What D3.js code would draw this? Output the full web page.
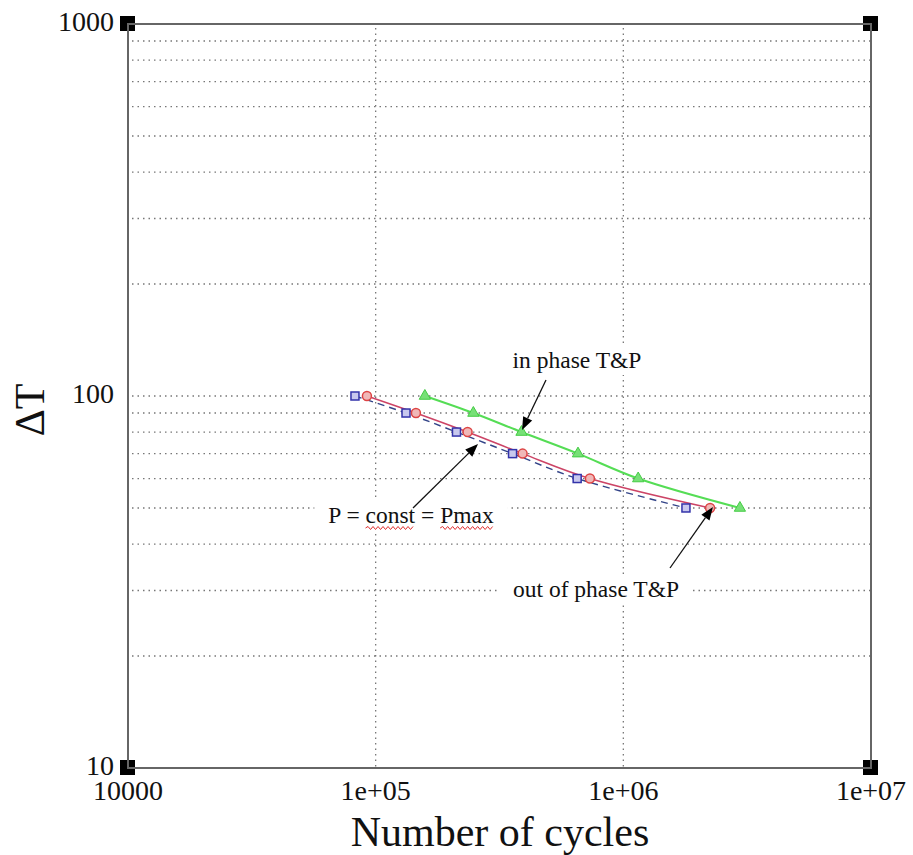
<!DOCTYPE html>
<html><head><meta charset="utf-8">
<script src="https://cdn.jsdelivr.net/npm/d3@7"></script>
<style>
body{margin:0;background:#fff}
text{font-family:"Liberation Serif","Times New Roman",serif;fill:#111}
</style></head>
<body><svg id="c" width="913" height="855"></svg>
<script>
// ---- data ----
const xTicks=[1e4,1e5,1e6,1e7];
const xTickLabels=["10000","1e+05","1e+06","1e+07"];
const yTicks=[10,100,1000];
const yTickLabels=["10","100","1000"];
const yGrid=[20,30,40,50,60,70,80,90,100,200,300,400,500,600,700,800,900];
const xGrid=[1e5,1e6];
const constCycles=[82500,132600,212000,357000,651000,1790000];
const constDT=[100,90,80,70,60,50];
const outCycles=[92200,145400,235000,392000,733000,2240000];
const outDT=[100,90,80,70,60,50];
const inCycles=[158000,248000,388000,656000,1148000,2956000];
const inDT=[100,90,80,70,60,50];
const annotations=[
  {text:"in phase T&P", tx:577, ty:368, tail:[546,380], tip:[390000,81], squiggle:[]},
  {text:"P = const = Pmax", tx:411, ty:523, tail:[413,508], tip:[259000,74.3], squiggle:[[4,5],[12,4]]},
  {text:"out of phase T&P", tx:596, ty:597, tail:[670,568], tip:[2300000,50.3], squiggle:[]}
];

const svg=d3.select("#c");
const L=128,R=871,T=24,B=768;
const x=d3.scaleLog().domain([1e4,1e7]).range([L,R]);
const y=d3.scaleLog().domain([10,1000]).range([B,T]);

// grid
svg.append("g").selectAll("line").data(yGrid).join("line")
  .attr("x1",L+4).attr("x2",R).attr("y1",d=>y(d)).attr("y2",d=>y(d))
  .attr("stroke","#777").attr("stroke-width",1.3).attr("stroke-dasharray","1.5,4");
svg.append("g").selectAll("line").data(xGrid).join("line")
  .attr("y1",T+4).attr("y2",B).attr("x1",d=>x(d)).attr("x2",d=>x(d))
  .attr("stroke","#777").attr("stroke-width",1.3).attr("stroke-dasharray","1.5,4");

// corner squares
const corners=[[L,T],[R,T],[L,B],[R,B]];
svg.append("g").selectAll("rect").data(corners).join("rect")
  .attr("x",d=>d[0]-8).attr("y",d=>d[1]-8).attr("width",15).attr("height",15).attr("fill","#000");

// frame
svg.append("rect").attr("x",L).attr("y",T).attr("width",R-L).attr("height",B-T)
  .attr("fill","none").attr("stroke","#666").attr("stroke-width",2);

// tick labels
svg.append("g").selectAll("text").data(yTicks).join("text")
  .attr("x",114).attr("y",d=>y(d)+7).attr("text-anchor","end").attr("font-size",28)
  .text((d,i)=>yTickLabels[i]);
svg.append("g").selectAll("text").data(xTicks).join("text")
  .attr("x",d=>x(d)).attr("y",800).attr("text-anchor","middle").attr("font-size",28)
  .text((d,i)=>xTickLabels[i]);

// axis titles
svg.append("text").attr("x",500).attr("y",846).attr("text-anchor","middle").attr("font-size",42).text("Number of cycles");
svg.append("text").attr("transform","translate(44,410) rotate(-90)").attr("text-anchor","middle").attr("font-size",42).text("ΔT");

// series lines
const line=d3.line().curve(d3.curveCatmullRom.alpha(0.5)).x(d=>x(d[0])).y(d=>y(d[1]));
const zip=(a,b)=>a.map((v,i)=>[v,b[i]]);
svg.append("path").datum(zip(constCycles,constDT)).attr("d",line).attr("fill","none")
  .attr("stroke","#334488").attr("stroke-width",1.4).attr("stroke-dasharray","7,5");
svg.append("path").datum(zip(outCycles,outDT)).attr("d",line).attr("fill","none")
  .attr("stroke","#cc4466").attr("stroke-width",1.6);
svg.append("path").datum(zip(inCycles,inDT)).attr("d",line).attr("fill","none")
  .attr("stroke","#55dd55").attr("stroke-width",2);

// markers
svg.append("g").selectAll("rect").data(zip(constCycles,constDT)).join("rect")
  .attr("x",d=>x(d[0])-4).attr("y",d=>y(d[1])-4).attr("width",8).attr("height",8)
  .attr("fill","#c8c8ee").attr("stroke","#3333aa").attr("stroke-width",1.5);
svg.append("g").selectAll("circle").data(zip(outCycles,outDT)).join("circle")
  .attr("cx",d=>x(d[0])).attr("cy",d=>y(d[1])).attr("r",4.5)
  .attr("fill","#f0b8b8").attr("stroke","#dd4444").attr("stroke-width",1.5);
const tri=d3.symbol().type(d3.symbolTriangle).size(55);
svg.append("g").selectAll("path").data(zip(inCycles,inDT)).join("path")
  .attr("transform",d=>`translate(${x(d[0])},${y(d[1])})`).attr("d",tri)
  .attr("fill","#77e077").attr("stroke","#44cc44").attr("stroke-width",1);

// annotations
const ag=svg.append("g");
function wavy(x0,x1,yy){
  let d=`M${x0},${yy}`; let up=true;
  for(let xx=x0+2.5;xx<=x1;xx+=2.5){ d+=`L${xx},${yy+(up?-1.5:1.5)}`; up=!up; }
  ag.append("path").attr("d",d).attr("fill","none").attr("stroke","#e03030").attr("stroke-width",1);
}
annotations.forEach(a=>{
  const t=ag.append("text").attr("x",a.tx).attr("y",a.ty).attr("text-anchor","middle").attr("font-size",23.5).text(a.text);
  const bb=t.node().getBBox();
  ag.insert("rect","text").attr("x",bb.x-14).attr("y",bb.y-2).attr("width",bb.width+28).attr("height",bb.height+4).attr("fill","#fff");
  a.squiggle.forEach(([i,n])=>{
    const sx=t.node().getStartPositionOfChar(i).x;
    const ex=t.node().getEndPositionOfChar(i+n-1).x;
    wavy(sx,ex,a.ty+5);
  });
  const tx=x(a.tip[0]), ty=y(a.tip[1]);
  const [sx,sy]=a.tail;
  const ang=Math.atan2(ty-sy,tx-sx), hl=13, hw=5;
  const bx=tx-hl*Math.cos(ang), by=ty-hl*Math.sin(ang);
  ag.append("line").attr("x1",sx).attr("y1",sy).attr("x2",bx).attr("y2",by).attr("stroke","#111").attr("stroke-width",1.3);
  ag.append("path").attr("d",`M${tx},${ty}L${bx-hw*Math.sin(ang)},${by+hw*Math.cos(ang)}L${bx+hw*Math.sin(ang)},${by-hw*Math.cos(ang)}Z`).attr("fill","#000");
});
</script></body></html>
